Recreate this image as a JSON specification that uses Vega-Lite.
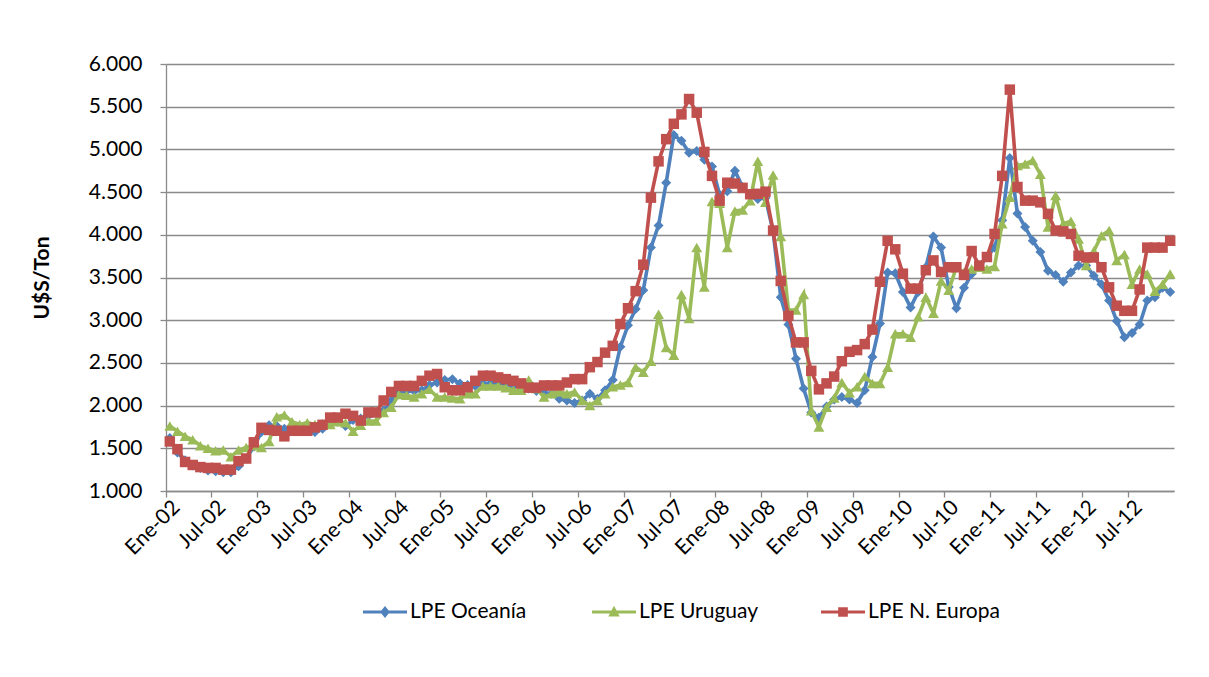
{
  "$schema": "https://vega.github.io/schema/vega-lite/v6.json",
  "width": 1008,
  "height": 427,
  "autosize": {"type": "none"},
  "padding": {"left": 166, "top": 64, "right": 35, "bottom": 186},
  "background": "white",
  "config": {
    "view": {"stroke": null},
    "font": "Lato",
    "axis": {"labelFont": "Lato", "titleFont": "Lato", "labelColor": "#000000", "titleColor": "#000000"}
  },
  "data": {"values": [
    {"mes":"Ene-02","Oceania":1620,"Uruguay":1760,"Europa":1580},
    {"mes":"Feb-02","Oceania":1450,"Uruguay":1700,"Europa":1490},
    {"mes":"Mar-02","Oceania":1360,"Uruguay":1640,"Europa":1340},
    {"mes":"Abr-02","Oceania":1300,"Uruguay":1600,"Europa":1305},
    {"mes":"May-02","Oceania":1270,"Uruguay":1530,"Europa":1280},
    {"mes":"Jun-02","Oceania":1240,"Uruguay":1500,"Europa":1270},
    {"mes":"Jul-02","Oceania":1230,"Uruguay":1470,"Europa":1270},
    {"mes":"Ago-02","Oceania":1220,"Uruguay":1480,"Europa":1250},
    {"mes":"Sep-02","Oceania":1220,"Uruguay":1400,"Europa":1250},
    {"mes":"Oct-02","Oceania":1290,"Uruguay":1480,"Europa":1350},
    {"mes":"Nov-02","Oceania":1380,"Uruguay":1510,"Europa":1380},
    {"mes":"Dic-02","Oceania":1520,"Uruguay":1530,"Europa":1570},
    {"mes":"Ene-03","Oceania":1690,"Uruguay":1510,"Europa":1740},
    {"mes":"Feb-03","Oceania":1770,"Uruguay":1580,"Europa":1715},
    {"mes":"Mar-03","Oceania":1760,"Uruguay":1870,"Europa":1705},
    {"mes":"Abr-03","Oceania":1730,"Uruguay":1890,"Europa":1640},
    {"mes":"May-03","Oceania":1710,"Uruguay":1810,"Europa":1705},
    {"mes":"Jun-03","Oceania":1700,"Uruguay":1780,"Europa":1705},
    {"mes":"Jul-03","Oceania":1700,"Uruguay":1800,"Europa":1705},
    {"mes":"Ago-03","Oceania":1690,"Uruguay":1780,"Europa":1745},
    {"mes":"Sep-03","Oceania":1730,"Uruguay":1790,"Europa":1775},
    {"mes":"Oct-03","Oceania":1790,"Uruguay":1780,"Europa":1860},
    {"mes":"Nov-03","Oceania":1810,"Uruguay":1810,"Europa":1860},
    {"mes":"Dic-03","Oceania":1760,"Uruguay":1800,"Europa":1905},
    {"mes":"Ene-04","Oceania":1830,"Uruguay":1700,"Europa":1880},
    {"mes":"Feb-04","Oceania":1850,"Uruguay":1770,"Europa":1825},
    {"mes":"Mar-04","Oceania":1880,"Uruguay":1820,"Europa":1920},
    {"mes":"Abr-04","Oceania":1910,"Uruguay":1820,"Europa":1920},
    {"mes":"May-04","Oceania":1940,"Uruguay":1920,"Europa":2060},
    {"mes":"Jun-04","Oceania":2060,"Uruguay":1980,"Europa":2160},
    {"mes":"Jul-04","Oceania":2150,"Uruguay":2130,"Europa":2230},
    {"mes":"Ago-04","Oceania":2170,"Uruguay":2120,"Europa":2230},
    {"mes":"Sep-04","Oceania":2170,"Uruguay":2100,"Europa":2230},
    {"mes":"Oct-04","Oceania":2180,"Uruguay":2140,"Europa":2290},
    {"mes":"Nov-04","Oceania":2240,"Uruguay":2190,"Europa":2350},
    {"mes":"Dic-04","Oceania":2270,"Uruguay":2100,"Europa":2370},
    {"mes":"Ene-05","Oceania":2300,"Uruguay":2100,"Europa":2215},
    {"mes":"Feb-05","Oceania":2310,"Uruguay":2090,"Europa":2180},
    {"mes":"Mar-05","Oceania":2260,"Uruguay":2080,"Europa":2180},
    {"mes":"Abr-05","Oceania":2240,"Uruguay":2140,"Europa":2215},
    {"mes":"May-05","Oceania":2230,"Uruguay":2140,"Europa":2290},
    {"mes":"Jun-05","Oceania":2260,"Uruguay":2230,"Europa":2350},
    {"mes":"Jul-05","Oceania":2260,"Uruguay":2230,"Europa":2350},
    {"mes":"Ago-05","Oceania":2250,"Uruguay":2230,"Europa":2330},
    {"mes":"Sep-05","Oceania":2250,"Uruguay":2210,"Europa":2310},
    {"mes":"Oct-05","Oceania":2230,"Uruguay":2180,"Europa":2290},
    {"mes":"Nov-05","Oceania":2220,"Uruguay":2180,"Europa":2260},
    {"mes":"Dic-05","Oceania":2200,"Uruguay":2300,"Europa":2210},
    {"mes":"Ene-06","Oceania":2170,"Uruguay":2200,"Europa":2210},
    {"mes":"Feb-06","Oceania":2150,"Uruguay":2100,"Europa":2236},
    {"mes":"Mar-06","Oceania":2140,"Uruguay":2140,"Europa":2236},
    {"mes":"Abr-06","Oceania":2080,"Uruguay":2160,"Europa":2236},
    {"mes":"May-06","Oceania":2060,"Uruguay":2140,"Europa":2270},
    {"mes":"Jun-06","Oceania":2030,"Uruguay":2160,"Europa":2310},
    {"mes":"Jul-06","Oceania":2060,"Uruguay":2060,"Europa":2310},
    {"mes":"Ago-06","Oceania":2140,"Uruguay":2000,"Europa":2450},
    {"mes":"Sep-06","Oceania":2080,"Uruguay":2060,"Europa":2510},
    {"mes":"Oct-06","Oceania":2180,"Uruguay":2140,"Europa":2620},
    {"mes":"Nov-06","Oceania":2300,"Uruguay":2220,"Europa":2700},
    {"mes":"Dic-06","Oceania":2690,"Uruguay":2240,"Europa":2955},
    {"mes":"Ene-07","Oceania":2940,"Uruguay":2270,"Europa":3140},
    {"mes":"Feb-07","Oceania":3130,"Uruguay":2450,"Europa":3340},
    {"mes":"Mar-07","Oceania":3350,"Uruguay":2390,"Europa":3650},
    {"mes":"Abr-07","Oceania":3850,"Uruguay":2520,"Europa":4435},
    {"mes":"May-07","Oceania":4110,"Uruguay":3070,"Europa":4860},
    {"mes":"Jun-07","Oceania":4610,"Uruguay":2680,"Europa":5120},
    {"mes":"Jul-07","Oceania":5170,"Uruguay":2590,"Europa":5300},
    {"mes":"Ago-07","Oceania":5100,"Uruguay":3300,"Europa":5410},
    {"mes":"Sep-07","Oceania":4960,"Uruguay":3020,"Europa":5590},
    {"mes":"Oct-07","Oceania":4980,"Uruguay":3850,"Europa":5430},
    {"mes":"Nov-07","Oceania":4880,"Uruguay":3390,"Europa":4970},
    {"mes":"Dic-07","Oceania":4800,"Uruguay":4390,"Europa":4690},
    {"mes":"Ene-08","Oceania":4470,"Uruguay":4370,"Europa":4400},
    {"mes":"Feb-08","Oceania":4510,"Uruguay":3850,"Europa":4610},
    {"mes":"Mar-08","Oceania":4750,"Uruguay":4280,"Europa":4600},
    {"mes":"Abr-08","Oceania":4560,"Uruguay":4290,"Europa":4550},
    {"mes":"May-08","Oceania":4450,"Uruguay":4400,"Europa":4475},
    {"mes":"Jun-08","Oceania":4420,"Uruguay":4860,"Europa":4480},
    {"mes":"Jul-08","Oceania":4430,"Uruguay":4380,"Europa":4505},
    {"mes":"Ago-08","Oceania":4040,"Uruguay":4700,"Europa":4050},
    {"mes":"Sep-08","Oceania":3270,"Uruguay":3980,"Europa":3460},
    {"mes":"Oct-08","Oceania":2950,"Uruguay":3120,"Europa":3050},
    {"mes":"Nov-08","Oceania":2550,"Uruguay":3120,"Europa":2740},
    {"mes":"Dic-08","Oceania":2200,"Uruguay":3300,"Europa":2740},
    {"mes":"Ene-09","Oceania":1920,"Uruguay":1940,"Europa":2407},
    {"mes":"Feb-09","Oceania":1860,"Uruguay":1750,"Europa":2190},
    {"mes":"Mar-09","Oceania":1990,"Uruguay":1980,"Europa":2260},
    {"mes":"Abr-09","Oceania":2070,"Uruguay":2090,"Europa":2340},
    {"mes":"May-09","Oceania":2100,"Uruguay":2270,"Europa":2520},
    {"mes":"Jun-09","Oceania":2070,"Uruguay":2150,"Europa":2630},
    {"mes":"Jul-09","Oceania":2030,"Uruguay":2220,"Europa":2650},
    {"mes":"Ago-09","Oceania":2180,"Uruguay":2340,"Europa":2720},
    {"mes":"Sep-09","Oceania":2570,"Uruguay":2260,"Europa":2890},
    {"mes":"Oct-09","Oceania":2960,"Uruguay":2260,"Europa":3450},
    {"mes":"Nov-09","Oceania":3560,"Uruguay":2450,"Europa":3930},
    {"mes":"Dic-09","Oceania":3550,"Uruguay":2840,"Europa":3830},
    {"mes":"Ene-10","Oceania":3330,"Uruguay":2840,"Europa":3545},
    {"mes":"Feb-10","Oceania":3150,"Uruguay":2800,"Europa":3370},
    {"mes":"Mar-10","Oceania":3330,"Uruguay":3040,"Europa":3370},
    {"mes":"Abr-10","Oceania":3620,"Uruguay":3270,"Europa":3585},
    {"mes":"May-10","Oceania":3980,"Uruguay":3080,"Europa":3700},
    {"mes":"Jun-10","Oceania":3850,"Uruguay":3460,"Europa":3565},
    {"mes":"Jul-10","Oceania":3390,"Uruguay":3350,"Europa":3620},
    {"mes":"Ago-10","Oceania":3140,"Uruguay":3620,"Europa":3620},
    {"mes":"Sep-10","Oceania":3380,"Uruguay":3560,"Europa":3530},
    {"mes":"Oct-10","Oceania":3540,"Uruguay":3600,"Europa":3810},
    {"mes":"Nov-10","Oceania":3620,"Uruguay":3620,"Europa":3640},
    {"mes":"Dic-10","Oceania":3740,"Uruguay":3600,"Europa":3740},
    {"mes":"Ene-11","Oceania":3850,"Uruguay":3630,"Europa":4010},
    {"mes":"Feb-11","Oceania":4170,"Uruguay":4130,"Europa":4690},
    {"mes":"Mar-11","Oceania":4900,"Uruguay":4440,"Europa":5700},
    {"mes":"Abr-11","Oceania":4250,"Uruguay":4810,"Europa":4560},
    {"mes":"May-11","Oceania":4090,"Uruguay":4830,"Europa":4400},
    {"mes":"Jun-11","Oceania":3930,"Uruguay":4870,"Europa":4400},
    {"mes":"Jul-11","Oceania":3800,"Uruguay":4710,"Europa":4380},
    {"mes":"Ago-11","Oceania":3580,"Uruguay":4090,"Europa":4245},
    {"mes":"Sep-11","Oceania":3530,"Uruguay":4460,"Europa":4050},
    {"mes":"Oct-11","Oceania":3450,"Uruguay":4130,"Europa":4040},
    {"mes":"Nov-11","Oceania":3560,"Uruguay":4160,"Europa":4010},
    {"mes":"Dic-11","Oceania":3640,"Uruguay":3950,"Europa":3755},
    {"mes":"Ene-12","Oceania":3640,"Uruguay":3640,"Europa":3735},
    {"mes":"Feb-12","Oceania":3520,"Uruguay":3810,"Europa":3735},
    {"mes":"Mar-12","Oceania":3420,"Uruguay":3990,"Europa":3620},
    {"mes":"Abr-12","Oceania":3230,"Uruguay":4050,"Europa":3385},
    {"mes":"May-12","Oceania":2990,"Uruguay":3700,"Europa":3170},
    {"mes":"Jun-12","Oceania":2800,"Uruguay":3770,"Europa":3110},
    {"mes":"Jul-12","Oceania":2850,"Uruguay":3420,"Europa":3110},
    {"mes":"Ago-12","Oceania":2950,"Uruguay":3600,"Europa":3360},
    {"mes":"Sep-12","Oceania":3230,"Uruguay":3540,"Europa":3850},
    {"mes":"Oct-12","Oceania":3270,"Uruguay":3340,"Europa":3850},
    {"mes":"Nov-12","Oceania":3380,"Uruguay":3420,"Europa":3850},
    {"mes":"Dic-12","Oceania":3330,"Uruguay":3540,"Europa":3930}
  ]},
  "transform": [{"fold": ["Oceania", "Uruguay", "Europa"], "as": ["serie", "valor"]}],
  "encoding": {
    "x": {
      "field": "mes", "type": "ordinal", "sort": null, "bandPosition": 0.5,
      "scale": {"type": "band", "paddingInner": 0, "paddingOuter": 0},
      "axis": {
        "values": ["Ene-02","Jul-02","Ene-03","Jul-03","Ene-04","Jul-04","Ene-05","Jul-05","Ene-06","Jul-06","Ene-07","Jul-07","Ene-08","Jul-08","Ene-09","Jul-09","Ene-10","Jul-10","Ene-11","Jul-11","Ene-12","Jul-12"],
        "title": null, "labelAngle": -45, "labelAlign": "right", "labelBaseline": "middle",
        "labelFontSize": 21, "labelPadding": 7, "labelOffset": 7, "tickSize": 6, "bandPosition": 0,
        "domainColor": "#8a8a8a", "tickColor": "#8a8a8a", "domainWidth": 1.3, "tickWidth": 1.3, "grid": false
      }
    },
    "y": {
      "field": "valor", "type": "quantitative",
      "scale": {"domain": [1000, 6000], "nice": false, "zero": false},
      "axis": {
        "values": [1000,1500,2000,2500,3000,3500,4000,4500,5000,5500,6000],
        "labelExpr": "replace(format(datum.value, ','), ',', '.')",
        "title": "U$S/Ton", "titleFontSize": 21, "titleFontWeight": "bold", "titlePadding": 36,
        "labelFontSize": 21, "labelPadding": 18, "tickSize": 6,
        "grid": true, "gridColor": "#8a8a8a", "gridWidth": 1.3,
        "domainColor": "#8a8a8a", "tickColor": "#8a8a8a", "domainWidth": 1.3, "tickWidth": 1.3
      }
    }
  },
  "resolve": {"scale": {"color": "independent", "shape": "independent"}},
  "layer": [
    {
      "transform": [{"filter": "false"}],
      "mark": {"type": "point", "filled": true, "opacity": 1},
      "encoding": {
        "color": {
          "field": "serie", "type": "nominal",
          "scale": {"domain": ["Oceania", "Uruguay", "Europa"], "range": ["#4F81BD", "#9BBB59", "#C0504D"]},
          "legend": {
            "orient": "none", "legendX": 197, "legendY": 526, "direction": "horizontal", "title": null,
            "labelExpr": "datum.value == 'Oceania' ? 'LPE Oceanía' : datum.value == 'Uruguay' ? 'LPE Uruguay' : 'LPE N. Europa'",
            "labelFont": "Lato", "labelFontSize": 21, "labelColor": "#000000", "labelOffset": 3,
            "symbolSize": 1936, "symbolStrokeWidth": 0, "symbolOpacity": 1,
            "columnPadding": 50, "gridAlign": "all", "padding": 0
          }
        },
        "shape": {
          "field": "serie", "type": "nominal",
          "scale": {
            "domain": ["Oceania", "Uruguay", "Europa"],
            "range": [
              "M-1,-0.07H1V0.07H-1Z M0,-0.27L0.22,0L0,0.27L-0.22,0Z",
              "M-1,-0.07H1V0.07H-1Z M0,-0.28L0.26,0.2H-0.26Z",
              "M-1,-0.07H1V0.07H-1Z M-0.22,-0.22H0.22V0.22H-0.22Z"
            ]
          },
          "legend": {
            "orient": "none", "legendX": 197, "legendY": 526, "direction": "horizontal", "title": null,
            "labelExpr": "datum.value == 'Oceania' ? 'LPE Oceanía' : datum.value == 'Uruguay' ? 'LPE Uruguay' : 'LPE N. Europa'",
            "labelFont": "Lato", "labelFontSize": 21, "labelColor": "#000000", "labelOffset": 3,
            "symbolSize": 1936, "symbolStrokeWidth": 0, "symbolOpacity": 1,
            "columnPadding": 50, "gridAlign": "all", "padding": 0
          }
        }
      }
    },
    {
      "transform": [{"filter": "datum.serie === 'Oceania'"}],
      "mark": {"type": "line", "strokeWidth": 3.6, "point": {"shape": "diamond", "size": 100, "filled": true, "opacity": 1}},
      "encoding": {
        "color": {"field": "serie", "type": "nominal", "scale": {"domain": ["Oceania", "Uruguay", "Europa"], "range": ["#4F81BD", "#9BBB59", "#C0504D"]}, "legend": null}
      }
    },
    {
      "transform": [{"filter": "datum.serie === 'Uruguay'"}],
      "mark": {"type": "line", "strokeWidth": 3.6, "point": {"shape": "triangle-up", "size": 120, "filled": true, "opacity": 1}},
      "encoding": {
        "color": {"field": "serie", "type": "nominal", "scale": {"domain": ["Oceania", "Uruguay", "Europa"], "range": ["#4F81BD", "#9BBB59", "#C0504D"]}, "legend": null}
      }
    },
    {
      "transform": [{"filter": "datum.serie === 'Europa'"}],
      "mark": {"type": "line", "strokeWidth": 3.6, "point": {"shape": "square", "size": 110, "filled": true, "opacity": 1}},
      "encoding": {
        "color": {"field": "serie", "type": "nominal", "scale": {"domain": ["Oceania", "Uruguay", "Europa"], "range": ["#4F81BD", "#9BBB59", "#C0504D"]}, "legend": null}
      }
    }
  ]
}
